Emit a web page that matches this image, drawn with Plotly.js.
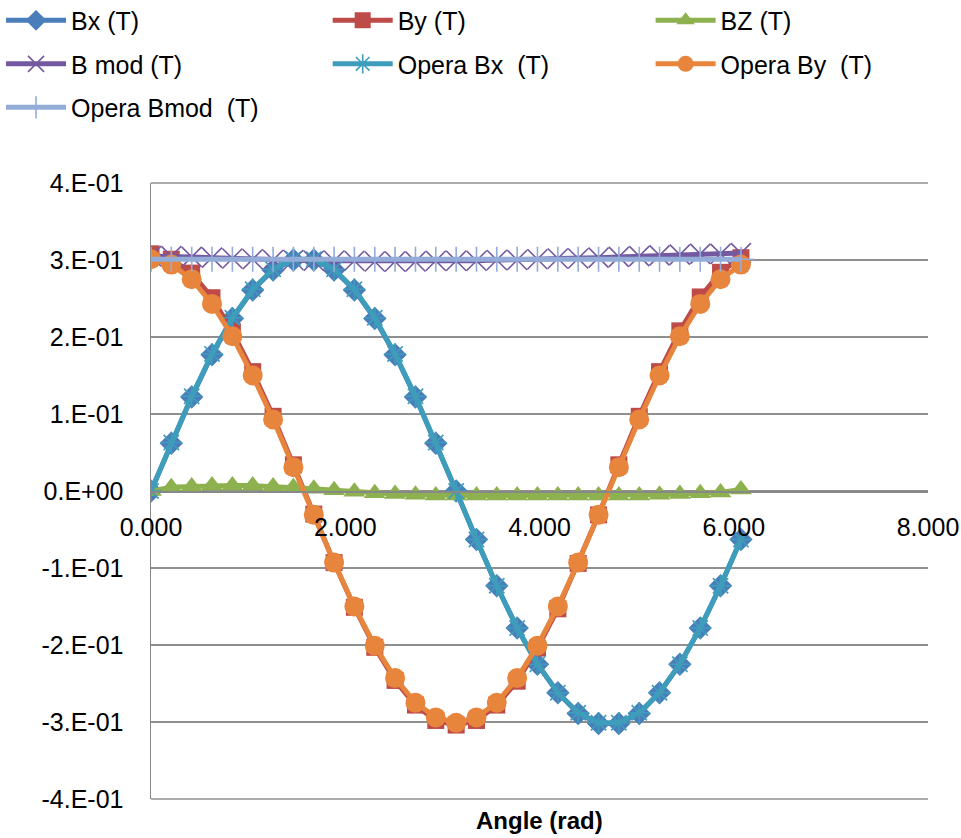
<!DOCTYPE html>
<html>
<head>
<meta charset="utf-8">
<script src="https://cdn.plot.ly/plotly-3.0.1.min.js"></script>
<style>html,body{margin:0;padding:0;background:#fff;}#chart{width:961px;height:838px;}</style>
</head>
<body>
<div id="chart"></div>
<script>
const angle = [0, 0.209, 0.419, 0.628, 0.838, 1.047, 1.257, 1.466, 1.676, 1.885, 2.094, 2.304, 2.513, 2.723, 2.932, 3.142, 3.351, 3.560, 3.770, 3.979, 4.189, 4.398, 4.608, 4.817, 5.027, 5.236, 5.445, 5.655, 5.864, 6.074];
const bx = [0, 0.062, 0.122, 0.177, 0.224, 0.261, 0.287, 0.300, 0.300, 0.287, 0.261, 0.224, 0.177, 0.122, 0.062, 0.000, -0.063, -0.123, -0.178, -0.225, -0.262, -0.289, -0.302, -0.302, -0.289, -0.262, -0.225, -0.178, -0.123, -0.063];
const by = [0.308, 0.301, 0.283, 0.251, 0.207, 0.155, 0.097, 0.034, -0.030, -0.093, -0.151, -0.203, -0.246, -0.278, -0.298, -0.304, -0.298, -0.278, -0.247, -0.204, -0.153, -0.094, -0.031, 0.034, 0.097, 0.155, 0.208, 0.252, 0.284, 0.303];
const bz = [0.000, 0.005, 0.006, 0.007, 0.007, 0.007, 0.006, 0.005, 0.003, 0.001, -0.001, -0.003, -0.004, -0.005, -0.006, -0.006, -0.006, -0.006, -0.006, -0.006, -0.006, -0.006, -0.006, -0.006, -0.006, -0.005, -0.004, -0.003, -0.002, 0.002];
const bmod = [0.305, 0.305, 0.304, 0.303, 0.302, 0.301, 0.300, 0.300, 0.299, 0.299, 0.299, 0.298, 0.298, 0.298, 0.299, 0.299, 0.299, 0.300, 0.300, 0.301, 0.302, 0.302, 0.303, 0.304, 0.305, 0.306, 0.307, 0.308, 0.308, 0.309];
const operaBx = [0, 0.063, 0.123, 0.178, 0.225, 0.262, 0.288, 0.301, 0.301, 0.288, 0.262, 0.225, 0.178, 0.123, 0.063, 0.000, -0.063, -0.123, -0.178, -0.225, -0.262, -0.288, -0.301, -0.301, -0.288, -0.262, -0.225, -0.178, -0.123, -0.063];
const operaBy = [0.301, 0.294, 0.275, 0.243, 0.201, 0.150, 0.093, 0.031, -0.031, -0.093, -0.150, -0.201, -0.243, -0.275, -0.294, -0.301, -0.294, -0.275, -0.243, -0.201, -0.150, -0.093, -0.031, 0.031, 0.093, 0.150, 0.201, 0.243, 0.275, 0.294];
const operaBmod = [0.301, 0.301, 0.301, 0.301, 0.301, 0.301, 0.301, 0.301, 0.301, 0.301, 0.301, 0.301, 0.301, 0.301, 0.301, 0.301, 0.301, 0.301, 0.301, 0.301, 0.301, 0.301, 0.301, 0.301, 0.301, 0.301, 0.301, 0.301, 0.301, 0.301];

const seriesNames = ["Bx (T)", "By (T)", "BZ (T)", "B mod (T)", "Opera Bx\u00a0 (T)", "Opera By\u00a0 (T)", "Opera Bmod\u00a0 (T)"];
const yTickVals = [0.4, 0.3, 0.2, 0.1, 0, -0.1, -0.2, -0.3, -0.4];
const yTickText = ["4.E-01", "3.E-01", "2.E-01", "1.E-01", "0.E+00", "-1.E-01", "-2.E-01", "-3.E-01", "-4.E-01"];
const xTickVals = [0, 2, 4, 6, 8];
const xTickText = ["0.000", "2.000", "4.000", "6.000", "8.000"];
const xTitle = "Angle (rad)";

const FONT = "Liberation Sans, Arial, sans-serif";
const FS = 25;
function tr(y, name, color, lw, sym, msize, mline, legend, group) {
  return {
    x: angle, y: y, name: name, type: "scatter", mode: "lines+markers",
    line: {color: color, width: lw},
    marker: {symbol: sym, size: msize, color: color, line: {color: color, width: mline}},
    legend: legend, legendgroup: group
  };
}
const data = [
  tr(bx, seriesNames[0], "#4A7EBB", 5, "diamond", 18, 0, "legend", "g1"),
  tr(by, seriesNames[1], "#BE4B48", 5, "square", 17, 0, "legend2", "g2"),
  tr(bz, seriesNames[2], "#8EB14F", 5, "triangle-up", 19, 0, "legend3", "g3"),
  tr(bmod, seriesNames[3], "#7559A0", 5, "x-thin-open", 20, 1.6, "legend", "g4"),
  tr(operaBx, seriesNames[4], "#3E9DBA", 5, "asterisk-open", 18, 1.6, "legend2", "g5"),
  tr(operaBy, seriesNames[5], "#E8853D", 5, "circle", 20, 0, "legend3", "g6"),
  tr(operaBmod, seriesNames[6], "#93ACD8", 5, "cross-thin-open", 18, 1.6, "legend", "g7")
];

const legBase = {
  orientation: "v", yanchor: "top", xanchor: "left", y: 1.301,
  font: {family: FONT, size: FS, color: "#000"}, bgcolor: "rgba(0,0,0,0)",
  traceorder: "grouped", tracegroupgap: 8, itemwidth: 60
};
const layout = {
  width: 961, height: 838,
  margin: {l: 151, r: 33, t: 183, b: 39, autoexpand: false},
  paper_bgcolor: "#fff", plot_bgcolor: "#fff",
  font: {family: FONT, size: FS, color: "#000"},
  showlegend: true,
  legend: Object.assign({}, legBase, {x: -0.193}),
  legend2: Object.assign({}, legBase, {x: 0.2274}),
  legend3: Object.assign({}, legBase, {x: 0.643}),
  xaxis: {
    range: [0, 8], tickvals: xTickVals, ticktext: xTickText,
    anchor: "free", position: 0.5, showgrid: false, zeroline: false,
    showline: true, linecolor: "#888888", linewidth: 1.5,
    ticks: "", ticklabelstandoff: 13,
    tickfont: {family: FONT, size: FS, color: "#000"}
  },
  yaxis: {
    range: [-0.4, 0.4], tickvals: yTickVals, ticktext: yTickText,
    showgrid: true, gridcolor: "#8f8f8f", gridwidth: 1.5, zeroline: false,
    showline: true, linecolor: "#888888", linewidth: 1.5,
    ticks: "", ticklabelstandoff: 21,
    tickfont: {family: FONT, size: FS, color: "#000"}
  },
  shapes: [
    {type: "line", xref: "paper", yref: "paper", x0: 0, x1: 1, y0: 1, y1: 1, line: {color: "#8f8f8f", width: 1.5}, layer: "below"},
    {type: "line", xref: "paper", yref: "paper", x0: 0, x1: 1, y0: 0, y1: 0, line: {color: "#8f8f8f", width: 1.5}, layer: "below"}
  ],
  annotations: [{
    text: "<b>" + xTitle + "</b>", xref: "paper", yref: "paper", x: 0.5, y: 0,
    yshift: -6, xanchor: "center", yanchor: "top", showarrow: false,
    font: {family: FONT, size: 24, color: "#000"}
  }]
};
Plotly.newPlot("chart", data, layout, {displayModeBar: false, staticPlot: true});
</script>
</body>
</html>
